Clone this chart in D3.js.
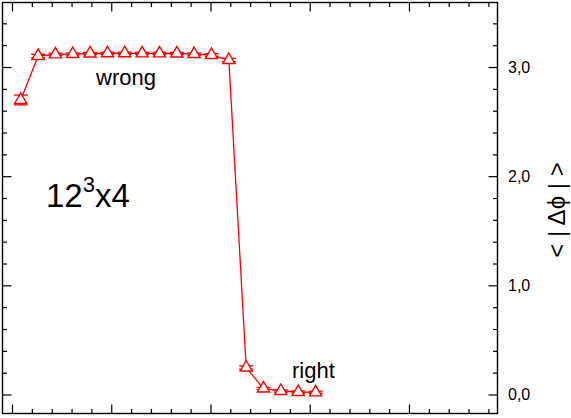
<!DOCTYPE html>
<html>
<head>
<meta charset="utf-8">
<script src="https://cdn.jsdelivr.net/npm/d3@7"></script>
<style>
  body { margin: 0; background: #fff; }
  svg { display: block; font-family: "Liberation Sans", Arial, sans-serif; }
</style>
</head>
<body>
<div id="chart"></div>
<script>
// data (x in arbitrary axis units, major tick = 1)
var xValues = [0.088, 0.263, 0.437, 0.612, 0.787, 0.962, 1.136, 1.311, 1.486,
               1.661, 1.835, 2.010, 2.185, 2.360, 2.534, 2.709, 2.884, 3.059]
var yValues = [2.698, 3.101, 3.116, 3.119, 3.124, 3.126, 3.126, 3.125, 3.125,
               3.124, 3.119, 3.110, 3.064, 0.247, 0.055, 0.032, 0.023, 0.020]
var yErrors = [0.045, 0.015, 0.010, 0.010, 0.010, 0.010, 0.010, 0.010, 0.010,
               0.010, 0.010, 0.012, 0.015, 0.015, 0.010, 0.010, 0.010, 0.010]
var yTickValues = [0, 1, 2, 3]
var yTickLabels = ["0,0", "1,0", "2,0", "3,0"]
var xTickValues = [0, 1, 2, 3, 4]

var width = 571
var height = 418
// plot frame (note: "top" is reserved on window, so use other names)
var pLeft = 2.5, pRight = 497.5, pTop = 2.5, pBottom = 413.5
var red = "#ff0000"

var svg = d3.select("#chart")
  .append("svg")
  .attr("width", width)
  .attr("height", height)

var x = d3.scaleLinear().domain([-0.0957, 4.892]).range([pLeft, pRight])
var y = d3.scaleLinear().domain([-0.174, 3.591]).range([pBottom, pTop])

// minor ticks every 0.2 on both axes
var xMinor = d3.range(0, 4.9, 0.2).filter(function(v){ return Math.abs(v - Math.round(v)) > 1e-6 })
var yMinor = d3.range(-0.2, 3.6, 0.2).filter(function(v){ return Math.abs(v - Math.round(v)) > 1e-6 && y(v) > pTop && y(v) < pBottom })

// ticks pointing inward on all four sides
function addAxis(axis, transform, major, minor) {
  svg.append("g").attr("transform", transform)
    .call(axis.tickValues(major).tickSize(-9).tickFormat(""))
    .call(function(g){ g.select(".domain").remove() })
  svg.append("g").attr("transform", transform)
    .call(axis.tickValues(minor).tickSize(-4.5).tickFormat(""))
    .call(function(g){ g.select(".domain").remove() })
}
addAxis(d3.axisBottom(x), "translate(0," + pBottom + ")", xTickValues, xMinor)
addAxis(d3.axisTop(x), "translate(0," + pTop + ")", xTickValues, xMinor)
addAxis(d3.axisLeft(y), "translate(" + pLeft + ",0)", yTickValues, yMinor)
addAxis(d3.axisRight(y), "translate(" + pRight + ",0)", yTickValues, yMinor)
svg.selectAll(".tick line").attr("stroke", "#000").attr("stroke-width", 1.2)

// frame
svg.append("rect")
  .attr("x", pLeft).attr("y", pTop)
  .attr("width", pRight - pLeft).attr("height", pBottom - pTop)
  .attr("fill", "none").attr("stroke", "#000").attr("stroke-width", 1.4)

// right axis labels
svg.selectAll("ylab")
  .data(yTickValues)
  .enter()
  .append("text")
  .attr("x", 508)
  .attr("y", function(d){ return y(d) })
  .attr("dy", "0.36em")
  .attr("font-size", 16)
  .text(function(d, i){ return yTickLabels[i] })

// y title
svg.append("text")
  .attr("transform", "translate(565,210) rotate(-90)")
  .attr("text-anchor", "middle")
  .attr("font-size", 24)
  .text("< | \u0394\u03D5 | >")

var points = xValues.map(function(v, i){ return {x: v, y: yValues[i], e: yErrors[i]} })

// connecting line
svg.append("path")
  .datum(points)
  .attr("fill", "none")
  .attr("stroke", red)
  .attr("stroke-width", 1.3)
  .attr("d", d3.line().x(function(d){ return x(d.x) }).y(function(d){ return y(d.y) }))

// error bars
var err = svg.selectAll("errs").data(points).enter().append("g").attr("stroke", red).attr("stroke-width", 1.3)
err.append("line")
  .attr("x1", function(d){ return x(d.x) }).attr("x2", function(d){ return x(d.x) })
  .attr("y1", function(d){ return y(d.y - d.e) }).attr("y2", function(d){ return y(d.y + d.e) })
err.append("line")
  .attr("x1", function(d){ return x(d.x) - 7 }).attr("x2", function(d){ return x(d.x) + 7 })
  .attr("y1", function(d){ return y(d.y - d.e) }).attr("y2", function(d){ return y(d.y - d.e) })
err.append("line")
  .attr("x1", function(d){ return x(d.x) - 7 }).attr("x2", function(d){ return x(d.x) + 7 })
  .attr("y1", function(d){ return y(d.y + d.e) }).attr("y2", function(d){ return y(d.y + d.e) })

// triangle markers
svg.selectAll("marks")
  .data(points)
  .enter()
  .append("path")
  .attr("d", d3.symbol().type(d3.symbolTriangle).size(64))
  .attr("transform", function(d){ return "translate(" + x(d.x) + "," + y(d.y) + ")" })
  .attr("fill", "#fff")
  .attr("stroke", red)
  .attr("stroke-width", 1.4)

// annotations
svg.append("text").attr("x", 96).attr("y", 85).attr("font-size", 22).text("wrong")
svg.append("text").attr("x", 292).attr("y", 378).attr("font-size", 22).text("right")

var lattice = svg.append("text").attr("x", 46).attr("y", 207).attr("font-size", 33)
lattice.append("tspan").text("12")
lattice.append("tspan").attr("font-size", 22).attr("dy", -15).text("3")
lattice.append("tspan").attr("dy", 15).text("x4")
</script>
</body>
</html>
